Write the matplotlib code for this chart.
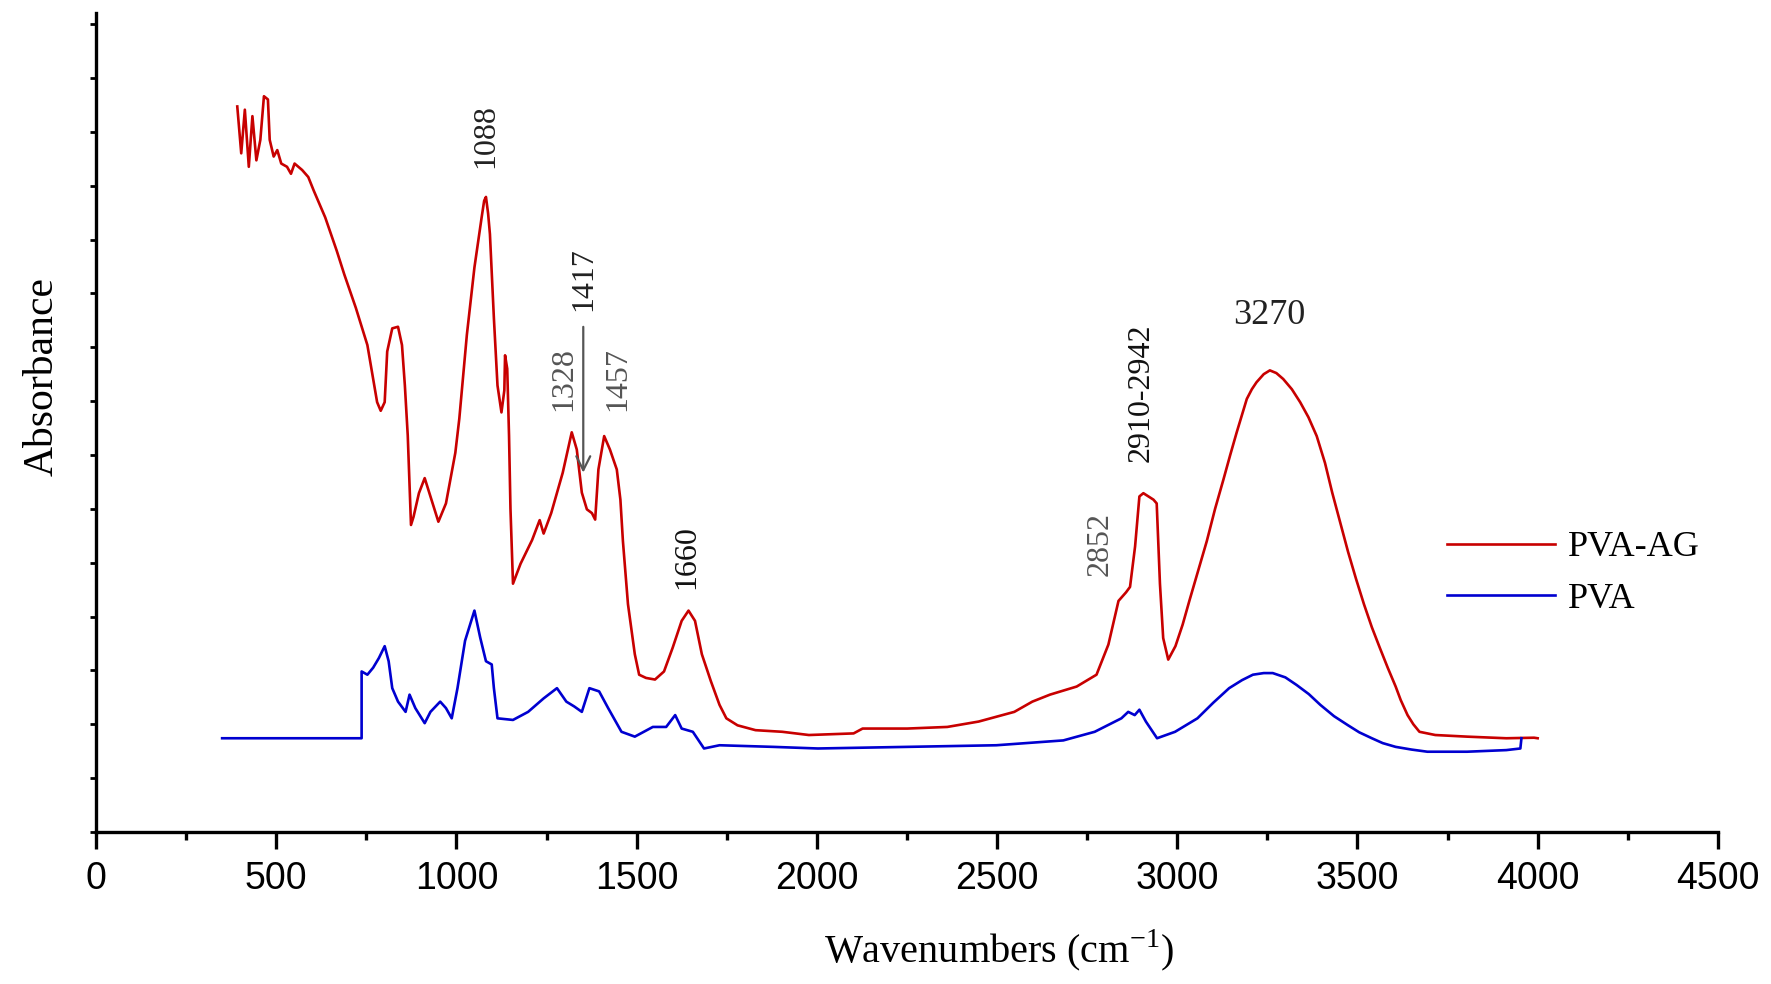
import matplotlib.pyplot as plt
from matplotlib.ticker import MultipleLocator

plt.rcParams['font.family'] = ['Liberation Serif', 'DejaVu Serif']
plt.rcParams['mathtext.fontset'] = 'custom'
plt.rcParams['mathtext.rm'] = 'Liberation Serif'

# PVA-AG spectrum
red_x = [392, 403, 413, 424, 434, 445, 456, 466, 477, 482, 493, 503, 514, 530, 541, 551,
         572, 589, 604, 636, 668, 689, 721, 753, 780, 790, 801, 808, 822, 838, 849, 857,
         865, 870, 874, 881, 896, 912, 928, 950, 971, 997, 1008, 1029, 1050, 1070, 1077,
         1082, 1088, 1093, 1104, 1114, 1125, 1133, 1135, 1141, 1146, 1150, 1157, 1178,
         1210, 1231, 1242, 1263, 1295, 1320, 1334, 1348, 1362, 1376, 1385, 1394, 1410,
         1426, 1445, 1455, 1462, 1476, 1495, 1507, 1526, 1551, 1576, 1600, 1625, 1644,
         1662, 1681, 1706, 1730, 1749, 1780, 1830, 1904, 1978, 2102, 2127, 2251, 2362,
         2449, 2548, 2598, 2647, 2721, 2776, 2809, 2837, 2858, 2869, 2883, 2895, 2906,
         2934, 2943, 2952, 2961, 2975, 2995, 3015, 3034, 3058, 3082, 3105, 3128, 3147,
         3165, 3180, 3193, 3207, 3220, 3240, 3257, 3275, 3294, 3318, 3341, 3364, 3387,
         3410, 3430, 3452, 3474, 3496, 3518, 3540, 3562, 3584, 3606, 3620, 3639, 3655,
         3672, 3716, 3804, 3913, 3990, 4000]
red_y = [13.47, 12.6, 13.41, 12.35, 13.29, 12.47, 12.85, 13.66, 13.6, 12.85, 12.54, 12.66,
         12.41, 12.35, 12.22, 12.41, 12.29, 12.16, 11.91, 11.41, 10.79, 10.35, 9.73, 9.04,
         7.98, 7.82, 7.98, 8.92, 9.35, 9.38, 9.04, 8.29, 7.36, 6.42, 5.70, 5.85, 6.29,
         6.57, 6.23, 5.76, 6.10, 7.04, 7.67, 9.23, 10.48, 11.41, 11.72, 11.79, 11.48,
         11.1, 9.54, 8.29, 7.79, 8.2, 8.85, 8.6, 7.36, 6.0, 4.61, 4.98, 5.42, 5.79, 5.54,
         5.92, 6.67, 7.42, 7.1, 6.3, 5.99, 5.92, 5.8, 6.73, 7.35, 7.1, 6.73, 6.17, 5.4,
         4.23, 3.3, 2.92, 2.86, 2.83, 2.98, 3.42, 3.92, 4.11, 3.92, 3.3, 2.8, 2.36, 2.11,
         1.98, 1.89, 1.86, 1.8, 1.83, 1.92, 1.92, 1.95, 2.05, 2.23, 2.42, 2.55, 2.7, 2.92,
         3.48, 4.29, 4.45, 4.55, 5.3, 6.23, 6.29, 6.17, 6.1, 4.61, 3.6, 3.2, 3.45, 3.85,
         4.3, 4.85, 5.4, 6.0, 6.54, 7.0, 7.42, 7.75, 8.04, 8.22, 8.35, 8.5, 8.57, 8.52,
         8.41, 8.22, 7.98, 7.7, 7.35, 6.85, 6.3, 5.75, 5.2, 4.7, 4.23, 3.8, 3.42, 3.05,
         2.7, 2.45, 2.17, 2.0, 1.86, 1.8, 1.77, 1.74, 1.75, 1.74]

# PVA spectrum
blue_x = [350, 737, 737, 753, 769, 785, 801, 812, 822, 838, 859, 870, 886, 912, 928, 955,
          971, 987, 1003, 1024, 1050, 1066, 1082, 1098, 1104, 1114, 1157, 1199, 1242,
          1279, 1305, 1327, 1348, 1369, 1396, 1421, 1458, 1495, 1545, 1582, 1607, 1625,
          1656, 1687, 1730, 1879, 2003, 2251, 2498, 2684, 2771, 2845, 2864, 2882, 2895,
          2913, 2944, 2994, 3056, 3100, 3144, 3180, 3210, 3240, 3265, 3300, 3331, 3365,
          3397, 3435, 3474, 3505, 3540, 3570, 3606, 3650, 3694, 3804, 3913, 3952, 3955]
blue_y = [1.74, 1.74, 2.98, 2.92, 3.05, 3.23, 3.45, 3.17, 2.67, 2.42, 2.23, 2.55, 2.3,
          2.02, 2.23, 2.42, 2.3, 2.11, 2.67, 3.55, 4.11, 3.61, 3.17, 3.11, 2.67, 2.11,
          2.08, 2.23, 2.48, 2.67, 2.42, 2.33, 2.23, 2.67, 2.61, 2.3, 1.86, 1.77, 1.95,
          1.95, 2.17, 1.92, 1.86, 1.55, 1.61, 1.58, 1.55, 1.58, 1.61, 1.7, 1.86, 2.11,
          2.23, 2.17, 2.27, 2.05, 1.74, 1.86, 2.11, 2.4, 2.67, 2.82, 2.92, 2.95, 2.95,
          2.87, 2.73, 2.56, 2.36, 2.15, 1.98, 1.85, 1.74, 1.65, 1.58, 1.53, 1.49, 1.49,
          1.52, 1.55, 1.74]

# peak labels: text, x, y, rotation, size, colour
peak_text = ['1088', '1417', '1328', '1457', '1660', '2852', '2910-2942', '3270']
peak_x = [1082, 1352, 1299, 1447, 1638, 2787, 2900, 3254]
peak_y = [12.92, 10.27, 8.41, 8.41, 5.1, 5.35, 8.16, 9.58]
peak_rot = [90, 90, 90, 90, 90, 90, 90, 0]
peak_size = [23, 23, 23, 23, 23, 23, 23, 26]
peak_col = ['#222222', '#222222', '#555555', '#555555', '#111111', '#555555', '#111111', '#222222']

fig = plt.figure(figsize=(17.71, 9.84), dpi=100)
ax = fig.add_axes([0.0542, 0.1545, 0.9158, 0.832])

ax.plot(red_x, red_y, color='#c80000', lw=1.9, label='PVA-AG')
ax.plot(blue_x, blue_y, color='#0000d0', lw=1.9, label='PVA')

for t, x, y, r, fs, c in zip(peak_text, peak_x, peak_y, peak_rot, peak_size, peak_col):
    ax.text(x, y, t, rotation=r, ha='center', va='center', fontsize=fs, color=c)

ax.annotate('', xy=(1352, 6.62), xytext=(1352, 9.43),
            arrowprops=dict(arrowstyle='->', color='#555555', lw=1.6, mutation_scale=25))

ax.set_xlim(0, 4500)
ax.set_ylim(0, 15.2)
ax.xaxis.set_major_locator(MultipleLocator(500))
ax.xaxis.set_minor_locator(MultipleLocator(250))
ax.yaxis.set_major_locator(MultipleLocator(1))
ax.set_yticklabels([])
ax.tick_params(axis='x', which='major', direction='out', length=12, width=2.4,
               labelsize=27, pad=9)
ax.tick_params(axis='x', which='minor', direction='out', length=6, width=2.4)
ax.tick_params(axis='y', which='major', direction='out', length=4, width=2)
for lab in ax.get_xticklabels():
    lab.set_family(['Liberation Sans', 'DejaVu Sans'])

for s in ['top', 'right']:
    ax.spines[s].set_visible(False)
for s in ['left', 'bottom']:
    ax.spines[s].set_linewidth(2.4)

ax.set_xlabel('Wavenumbers (cm$^{-1}$)', fontsize=29)
ax.xaxis.label.set_va('center')
ax.xaxis.set_label_coords(0.557, -0.144)
ax.set_ylabel('Absorbance', fontsize=30)
ax.yaxis.label.set_va('center')
ax.yaxis.set_label_coords(-0.0333, 0.556)

ax.legend(loc='upper left', bbox_to_anchor=(0.833, 0.3675), frameon=False, fontsize=26,
          handlelength=3.0, handletextpad=0.36, labelspacing=0.5, borderpad=0,
          borderaxespad=0)

fig.savefig('out.png', dpi=100)
